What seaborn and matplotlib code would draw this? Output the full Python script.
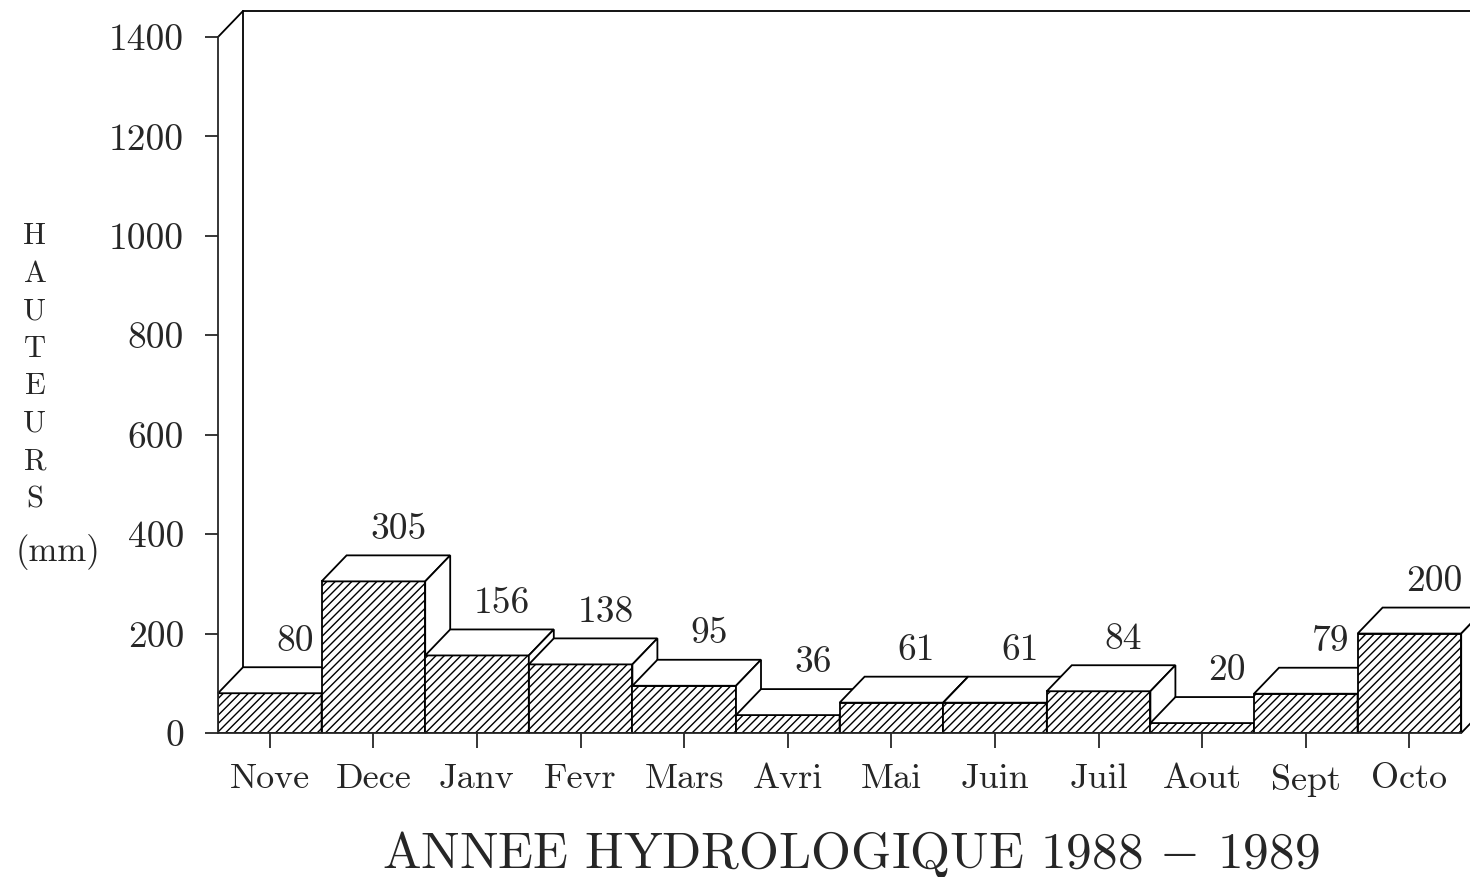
# ==========================================
# PLUVIOMETRIE MENSUELLE 1988 - 1989
# BARRES EN PSEUDO 3D
# ==========================================

import matplotlib
matplotlib.use("Agg")

import numpy as np
import pandas as pd
import matplotlib.pyplot as plt
import seaborn as sns
from matplotlib.patches import Polygon

# ==========================================
# DATA
# ==========================================

months = ["Nove", "Dece", "Janv", "Fevr", "Mars", "Avri",
          "Mai", "Juin", "Juil", "Aout", "Sept", "Octo"]
rain_mm = [80, 305, 156, 138, 95, 36, 61, 61, 84, 20, 79, 200]
y_ticks = [0, 200, 400, 600, 800, 1000, 1200, 1400]

df = pd.DataFrame({"Mois": months, "Hauteur": rain_mm})

# ==========================================
# STYLE
# ==========================================

sns.set_style("white")
plt.rcParams["font.family"] = ["cmr10", "DejaVu Serif"]
plt.rcParams["mathtext.fontset"] = "cm"
plt.rcParams["axes.formatter.use_mathtext"] = True
plt.rcParams["hatch.linewidth"] = 1.0

fig = plt.figure(figsize=(14.7, 8.77), dpi=100)

# axes placed so that 0 -> 733 px and 1400 -> 37 px
px_per_unit = 696 / 1400
y_top = 1460
ax = fig.add_axes([218 / 1470,
                   (877 - 733) / 877,
                   1252 / 1470,
                   y_top * px_per_unit / 877])

sns.barplot(
    data=df,
    x="Mois",
    y="Hauteur",
    color="white",
    edgecolor="black",
    linewidth=1.3,
    width=1.0,
    ax=ax
)

ax.set_xlim(-0.5, -0.5 + 1252 / 103.6)
ax.set_ylim(0, y_top)

# depth of the pseudo 3D boxes
dx = 25 / 103.6
dy = 26 / px_per_unit

# ==========================================
# BACK WALL
# ==========================================

line_kw = dict(color="black", lw=1.3, clip_on=False)
ax.plot([-0.5, -0.5 + dx], [1400, 1400 + dy], zorder=1, **line_kw)
ax.plot([-0.5 + dx, -0.5 + dx], [dy, 1400 + dy], zorder=1, **line_kw)
ax.plot([-0.5 + dx, 20], [1400 + dy, 1400 + dy], zorder=1, **line_kw)

# ==========================================
# 3D BOXES
# ==========================================

for i, bar in enumerate(ax.patches):
    x0 = bar.get_x()
    w = bar.get_width()
    h = bar.get_height()
    z = 5 + 3 * i

    bar.set_hatch("////")
    bar.set_zorder(z)

    top = Polygon(
        [[x0, h], [x0 + w, h], [x0 + w + dx, h + dy], [x0 + dx, h + dy]],
        closed=True, facecolor="white", edgecolor="black",
        lw=1.3, zorder=z + 1, clip_on=False
    )
    side = Polygon(
        [[x0 + w, 0], [x0 + w + dx, dy], [x0 + w + dx, h + dy], [x0 + w, h]],
        closed=True, facecolor="white", edgecolor="black",
        lw=1.3, zorder=z + 1, clip_on=False
    )
    ax.add_patch(top)
    ax.add_patch(side)

    ax.annotate(
        str(rain_mm[i]),
        xy=(x0 + w / 2 + dx, h + dy),
        xytext=(0, 7),
        textcoords="offset points",
        ha="center",
        va="bottom",
        fontsize=27,
        zorder=z + 2
    )

# ==========================================
# AXES
# ==========================================

for s in ["top", "right"]:
    ax.spines[s].set_visible(False)

ax.spines["left"].set_bounds(0, 1400)
ax.spines["bottom"].set_bounds(-0.5, 11.5)
ax.spines["left"].set_linewidth(1.3)
ax.spines["bottom"].set_linewidth(1.3)
ax.spines["left"].set_zorder(60)
ax.spines["bottom"].set_zorder(60)

ax.set_yticks(y_ticks)
ax.set_yticklabels([str(v) for v in y_ticks])
ax.tick_params(axis="y", direction="out", length=9.5, width=1.3,
               pad=15, labelsize=27, left=True)
ax.tick_params(axis="x", direction="out", length=11, width=1.3,
               pad=11, labelsize=26, bottom=True)

ax.set_xlabel("")
ax.set_ylabel("")

fig.text(35 / 1470, 1 - 368 / 877, "\n".join("HAUTEURS"),
         ha="center", va="center", fontsize=22, linespacing=1.47)
fig.text(58 / 1470, 1 - 552 / 877, "(mm)",
         ha="center", va="center", fontsize=25)

fig.text(851 / 1470, 1 - 854 / 877, "ANNEE HYDROLOGIQUE 1988 $-$ 1989",
         ha="center", va="center", fontsize=37)

plt.savefig("out.png", dpi=100)
